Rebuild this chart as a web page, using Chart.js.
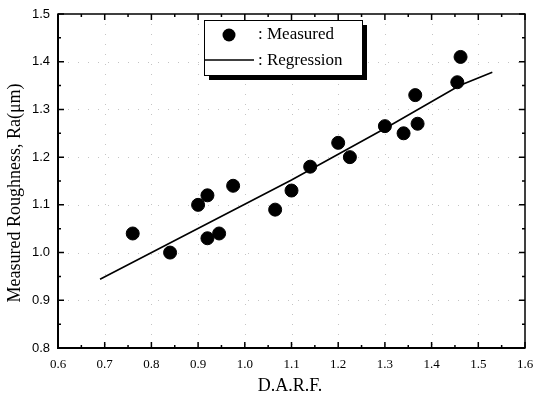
<!DOCTYPE html>
<html>
<head>
<meta charset="utf-8">
<script src="https://cdn.jsdelivr.net/npm/chart.js@4/dist/chart.umd.min.js"></script>
<style>
  html, body { margin: 0; padding: 0; background: #fff; }
  #wrap { width: 533px; height: 399px; }
</style>
</head>
<body>
<div id="wrap"><canvas id="chart" width="533" height="399"></canvas></div>
<script>
// Data
const darf      = [0.76, 0.84, 0.90, 0.92, 0.92, 0.945, 0.975, 1.065, 1.10, 1.14, 1.20, 1.225, 1.30, 1.34, 1.365, 1.37, 1.455, 1.462];
const roughness = [1.04, 1.00, 1.10, 1.12, 1.03, 1.04, 1.14, 1.09, 1.13, 1.18, 1.23, 1.20, 1.265, 1.25, 1.33, 1.27, 1.357, 1.41];

const regX = [0.69, 1.10, 1.30, 1.46, 1.53];
const regY = [0.944, 1.152, 1.260, 1.350, 1.378];

const xTicks = [0.6, 0.7, 0.8, 0.9, 1.0, 1.1, 1.2, 1.3, 1.4, 1.5, 1.6];
const yTicks = [0.8, 0.9, 1.0, 1.1, 1.2, 1.3, 1.4, 1.5];

const legendLabels = [': Measured', ': Regression'];
const xTitle = 'D.A.R.F.';
const yTitle = 'Measured Roughness, Ra(\u03bcm)';

const serif = '"Liberation Serif", "Times New Roman", serif';
const sans = '"Liberation Sans", Arial, sans-serif';

// dotted grid under the marks
const gridPlugin = {
  id: 'dotgrid',
  beforeDatasetsDraw(chart) {
    const ctx = chart.ctx;
    const a = chart.chartArea;
    const xs = chart.scales.x, ys = chart.scales.y;
    ctx.save();
    ctx.strokeStyle = '#c4c4c4';
    ctx.lineWidth = 1;
    ctx.setLineDash([1, 9]);
    xTicks.slice(1, -1).forEach(v => {
      const px = Math.round(xs.getPixelForValue(v)) + 0.5;
      ctx.beginPath(); ctx.moveTo(px, a.top); ctx.lineTo(px, a.bottom); ctx.stroke();
    });
    yTicks.slice(1, -1).forEach(v => {
      const py = Math.round(ys.getPixelForValue(v)) + 0.5;
      ctx.beginPath(); ctx.moveTo(a.left, py); ctx.lineTo(a.right, py); ctx.stroke();
    });
    ctx.restore();
  }
};

// frame, inward ticks, axis titles and the shadowed legend box
const framePlugin = {
  id: 'frame',
  afterDatasetsDraw(chart) {
    const ctx = chart.ctx;
    const a = chart.chartArea;
    const xs = chart.scales.x, ys = chart.scales.y;
    ctx.save();
    ctx.strokeStyle = '#000';

    ctx.lineWidth = 1.5;
    for (let v = 0.6; v <= 1.6001; v += 0.05) {
      const px = xs.getPixelForValue(v);
      const major = Math.abs(v * 10 - Math.round(v * 10)) < 0.01;
      const len = major ? 6 : 3;
      ctx.beginPath();
      ctx.moveTo(px, a.bottom); ctx.lineTo(px, a.bottom - len);
      ctx.moveTo(px, a.top); ctx.lineTo(px, a.top + len);
      ctx.stroke();
    }
    for (let v = 0.8; v <= 1.5001; v += 0.05) {
      const py = ys.getPixelForValue(v);
      const major = Math.abs(v * 10 - Math.round(v * 10)) < 0.01;
      const len = major ? 6 : 3;
      ctx.beginPath();
      ctx.moveTo(a.left, py); ctx.lineTo(a.left + len, py);
      ctx.moveTo(a.right, py); ctx.lineTo(a.right - len, py);
      ctx.stroke();
    }

    ctx.lineWidth = 1.5;
    ctx.strokeRect(a.left, a.top, a.right - a.left, a.bottom - a.top);
    ctx.lineWidth = 2;
    ctx.beginPath();
    ctx.moveTo(a.left, a.top); ctx.lineTo(a.left, a.bottom); ctx.lineTo(a.right, a.bottom);
    ctx.stroke();

    // axis titles
    ctx.fillStyle = '#000';
    ctx.textAlign = 'center';
    ctx.textBaseline = 'middle';
    ctx.font = '18px ' + serif;
    ctx.fillText(xTitle, 290, 386);
    ctx.save();
    ctx.translate(15, 193);
    ctx.rotate(-Math.PI / 2);
    ctx.fillText(yTitle, 0, 0);
    ctx.restore();

    // legend with drop shadow
    const bx = 204, by = 20, bw = 158, bh = 55;
    ctx.fillStyle = '#000';
    ctx.fillRect(bx + 5, by + 5, bw, bh);
    ctx.fillStyle = '#fff';
    ctx.fillRect(bx, by, bw, bh);
    ctx.lineWidth = 1;
    ctx.strokeRect(bx + 0.5, by + 0.5, bw, bh);

    ctx.fillStyle = '#000';
    ctx.beginPath();
    ctx.arc(229, 35, 6.5, 0, Math.PI * 2);
    ctx.fill();
    ctx.lineWidth = 1.5;
    ctx.beginPath();
    ctx.moveTo(205, 60); ctx.lineTo(254, 60);
    ctx.stroke();

    ctx.font = '17px ' + serif;
    ctx.textAlign = 'left';
    ctx.fillText(legendLabels[0], 258, 35);
    ctx.fillText(legendLabels[1], 258, 61);
    ctx.restore();
  }
};

const chart = new Chart(document.getElementById('chart').getContext('2d'), {
  type: 'scatter',
  data: {
    datasets: [
      {
        type: 'line',
        label: 'Regression',
        data: regX.map((x, i) => ({ x: x, y: regY[i] })),
        borderColor: '#000',
        borderWidth: 1.6,
        pointRadius: 0,
        fill: false,
        tension: 0
      },
      {
        label: 'Measured',
        data: darf.map((x, i) => ({ x: x, y: roughness[i] })),
        backgroundColor: '#000',
        borderColor: '#000',
        pointRadius: 6.5,
        pointHoverRadius: 6.5
      }
    ]
  },
  options: {
    responsive: false,
    animation: false,
    layout: { padding: { top: 14, right: 8, left: 0, bottom: 0 } },
    plugins: { legend: { display: false }, tooltip: { enabled: false } },
    scales: {
      x: {
        type: 'linear',
        min: 0.6, max: 1.6,
        afterFit(s) { s.height = 51; s.paddingLeft = 0; s.paddingRight = 0; },
        afterBuildTicks(s) { s.ticks = xTicks.map(v => ({ value: v })); },
        grid: { display: false, drawTicks: false },
        border: { display: false },
        ticks: {
          padding: 9,
          color: '#000',
          font: { family: serif, size: 13 },
          callback: v => v.toFixed(1)
        }
      },
      y: {
        type: 'linear',
        min: 0.8, max: 1.5,
        afterFit(s) { s.width = 58; s.paddingTop = 0; s.paddingBottom = 0; },
        afterBuildTicks(s) { s.ticks = yTicks.map(v => ({ value: v })); },
        grid: { display: false, drawTicks: false },
        border: { display: false },
        ticks: {
          padding: 8,
          color: '#000',
          font: { family: sans, size: 13 },
          callback: v => v.toFixed(1)
        }
      }
    }
  },
  plugins: [gridPlugin, framePlugin]
});
</script>
</body>
</html>
